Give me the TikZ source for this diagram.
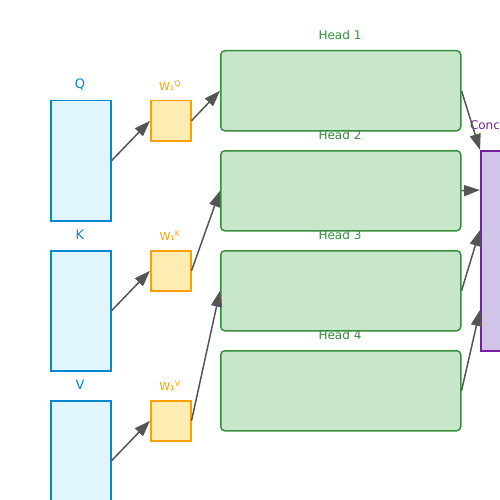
\documentclass[tikz,border=0pt]{standalone}
\usepackage{fontspec}
\setmainfont{DejaVu Sans}
\usetikzlibrary{arrows.meta}
\definecolor{inpfill}{HTML}{E1F5FE}
\definecolor{inpdraw}{HTML}{0288D1}
\definecolor{wfill}{HTML}{FFECB3}
\definecolor{wdraw}{HTML}{FFA000}
\definecolor{hfill}{HTML}{C8E6C9}
\definecolor{hdraw}{HTML}{388E3C}
\definecolor{cfill}{HTML}{D1C4E9}
\definecolor{cdraw}{HTML}{7B1FA2}
\definecolor{arr}{HTML}{555555}
\tikzset{
  inbox/.style={draw=inpdraw, fill=inpfill, line width=1.5pt, minimum width=60pt, minimum height=120pt, inner sep=0pt, anchor=north west},
  wbox/.style={draw=wdraw, fill=wfill, line width=1.5pt, minimum width=40pt, minimum height=40pt, inner sep=0pt, anchor=north west},
  headbox/.style={draw=hdraw, fill=hfill, line width=1.5pt, rounded corners=4pt, minimum width=240pt, minimum height=80pt, inner sep=0pt, anchor=north west},
  catbox/.style={draw=cdraw, fill=cfill, line width=1.5pt, minimum width=20pt, minimum height=200pt, inner sep=0pt, anchor=north west},
  inlab/.style={text=inpdraw, font=\fontsize{13pt}{15pt}\selectfont, inner sep=0pt},
  wlab/.style={text=wdraw, font=\fontsize{11pt}{13pt}\selectfont, inner sep=0pt},
  hlab/.style={text=hdraw, font=\fontsize{12pt}{14pt}\selectfont, inner sep=0pt},
  clab/.style={text=cdraw, font=\fontsize{12pt}{14pt}\selectfont, inner sep=0pt},
  conn/.style={draw=arr, line width=1.5pt, -{Triangle[length=16pt,width=11pt]}}
}
\begin{document}
\begin{tikzpicture}[x=1pt,y=-1pt]
\useasboundingbox (0,0) rectangle (500,500);
\clip (0,0) rectangle (500,500);
\fill[white] (0,0) rectangle (500,500);
% inputs
\node[inbox] (q) at (50,100) {};
\node[inbox] (k) at (50,250) {};
\node[inbox] (v) at (50,400) {};
\node[inlab] (ql) at (80,85) {Q};
\node[inlab] (kl) at (80,235) {K};
\node[inlab] (vl) at (80,385) {V};
% weights
\node[wbox] (wq) at (150,100) {};
\node[wbox] (wk) at (150,250) {};
\node[wbox] (wv) at (150,400) {};
\node[wlab] (wql) at (170,86) {W₁\textsuperscript{Q}};
\node[wlab] (wkl) at (170,236) {W₁\textsuperscript{K}};
\node[wlab] (wvl) at (170,386) {W₁\textsuperscript{V}};
% heads
\node[headbox] (h1) at (220,50) {};
\node[headbox] (h2) at (220,150) {};
\node[headbox] (h3) at (220,250) {};
\node[headbox] (h4) at (220,350) {};
\node[hlab] (h1l) at (340,35) {Head 1};
\node[hlab] (h2l) at (340,135) {Head 2};
\node[hlab] (h3l) at (340,235) {Head 3};
\node[hlab] (h4l) at (340,335) {Head 4};
% concat
\node[catbox] (cat) at (480,150) {};
\node[clab] (catl) at (491,125.5) {Concat};
\coordinate (c1) at (480,150);
\coordinate (c2) at (480,190);
\coordinate (c3) at (480,230);
\coordinate (c4) at (480,310);
% connectors
\draw[conn] (q.east) -- (wq.west);
\draw[conn] (k.east) -- (wk.west);
\draw[conn] (v.east) -- (wv.west);
\draw[conn] (wq.east) -- (h1.west);
\draw[conn] (wk.east) -- (h2.west);
\draw[conn] (wv.east) -- (h3.west);
\draw[conn] (h1.east) -- (c1);
\draw[conn] (h2.east) -- (c2);
\draw[conn] (h3.east) -- (c3);
\draw[conn] (h4.east) -- (c4);
\end{tikzpicture}
\end{document}
